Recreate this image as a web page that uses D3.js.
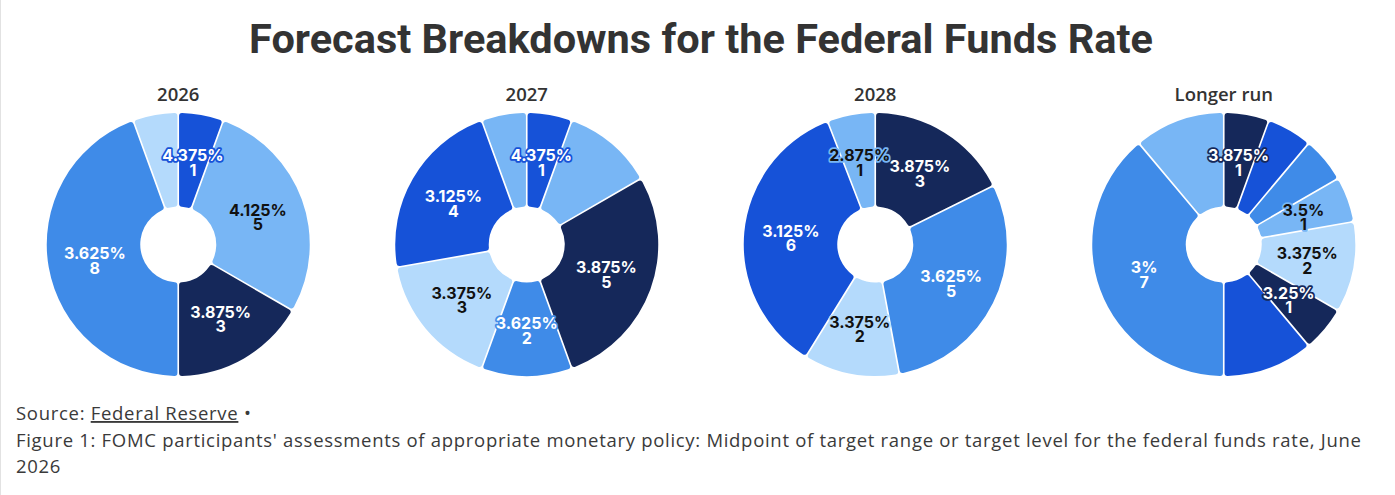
<!DOCTYPE html>
<html>
<head>
<meta charset="utf-8">
<script src="https://cdn.jsdelivr.net/npm/d3@7"></script>
<style>
  html, body { margin: 0; padding: 0; background: #fff; }
  svg { display: block; }
</style>
</head>
<body>
<svg id="chart" width="1395" height="495"></svg>
<script>
// ---------- data ----------
const chartTitle = "Forecast Breakdowns for the Federal Funds Rate";
const categories = ["2026", "2027", "2028", "Longer run"];

const rates2026  = ["4.375%", "4.125%", "3.875%", "3.625%", "3.375%"];
const counts2026 = [1, 5, 3, 8, 1];

const rates2027  = ["4.375%", "4.125%", "3.875%", "3.625%", "3.375%", "3.125%", "2.875%"];
const counts2027 = [1, 2, 5, 2, 3, 4, 1];

const rates2028  = ["3.875%", "3.625%", "3.375%", "3.125%", "2.875%"];
const counts2028 = [3, 5, 2, 6, 1];

const ratesLonger  = ["3.875%", "3.75%", "3.625%", "3.5%", "3.375%", "3.25%", "3.125%", "3%", "2.875%"];
const countsLonger = [1, 1, 1, 1, 2, 1, 2, 7, 2];

// colour domain: every rate level on the 1/8 grid
const rateLevels = ["4.375%", "4.25%", "4.125%", "4%", "3.875%", "3.75%", "3.625%", "3.5%",
                    "3.375%", "3.25%", "3.125%", "3%", "2.875%"];

const sourceName = "Federal Reserve";
const noteLine1 = "Figure 1: FOMC participants' assessments of appropriate monetary policy: Midpoint of target range or target level for the federal funds rate, June";
const noteLine2 = "2026";

// ---------- setup ----------
const W = 1395, H = 495;
const svg = d3.select("#chart");

const palette = ["#1652d8", "#3f8be8", "#78b6f5", "#b4dafc", "#15285a"];
const color = d3.scaleOrdinal(rateLevels, palette);
const darkText = new Set(["#78b6f5", "#b4dafc"]);

const panels = [
  { name: categories[0], rates: rates2026, counts: counts2026 },
  { name: categories[1], rates: rates2027, counts: counts2027 },
  { name: categories[2], rates: rates2028, counts: counts2028 },
  { name: categories[3], rates: ratesLonger, counts: countsLonger }
];

// left border
svg.append("line").attr("x1", 0.5).attr("x2", 0.5).attr("y1", 0).attr("y2", H)
  .attr("stroke", "#e2e2e2");

// title
svg.append("text")
  .attr("x", 701).attr("y", 53)
  .attr("text-anchor", "middle")
  .attr("font-family", "Roboto, 'Open Sans', sans-serif")
  .attr("font-weight", 700)
  .attr("font-size", 41.5)
  .attr("fill", "#333")
  .text(chartTitle);

const x = d3.scaleBand().domain(categories).range([4, 1398]);
const outerR = 131.5, innerR = 38;
const cy = 244.5;

const pie = d3.pie().sort(null).value(d => d.count);
const arc = d3.arc().innerRadius(innerR).outerRadius(outerR)
  .padAngle(0.012).cornerRadius(3);

const inset = 2.5; // tolerance for label collision test
panels.forEach(p => {
  const data = p.rates.map((r, i) => ({ rate: r, count: p.counts[i] }));
  const cx = x(p.name) + x.bandwidth() / 2;
  const g = svg.append("g").attr("transform", `translate(${cx},${cy})`);

  svg.append("text")
    .attr("x", cx).attr("y", 101)
    .attr("text-anchor", "middle")
    .attr("font-family", "'Open Sans', sans-serif")
    .attr("font-weight", 600)
    .attr("font-size", 18.5)
    .attr("fill", "#333")
    .text(p.name);

  const arcs = pie(data);
  g.selectAll("path").data(arcs).join("path")
    .attr("d", arc)
    .attr("fill", d => color(d.data.rate));

  const placed = [];
  arcs.forEach(a => {
    const [lx, ly] = arc.centroid(a);
    const fill = color(a.data.rate);
    const t = g.append("text")
      .attr("text-anchor", "middle")
      .attr("font-family", "Inter, 'Open Sans', sans-serif")
      .attr("font-weight", 700)
      .attr("font-size", 16)
      .attr("fill", darkText.has(fill) ? "#111" : "#fff")
      .attr("stroke", fill)
      .attr("stroke-width", 3.5)
      .attr("stroke-linejoin", "round")
      .attr("paint-order", "stroke");
    t.append("tspan").attr("x", lx).attr("y", ly).text(a.data.rate);
    t.append("tspan").attr("x", lx).attr("y", ly + 14.5).text(a.data.count);
    const bb = t.node().getBBox();
    const b = { x: bb.x + inset, y: bb.y, width: bb.width - 2 * inset, height: bb.height };
    const overlaps = placed.some(q => !(b.x + b.width <= q.x || q.x + q.width <= b.x ||
                                         b.y + b.height <= q.y || q.y + q.height <= b.y));
    if (overlaps) t.remove(); else placed.push(b);
  });
});

// footer
const foot = svg.append("g")
  .attr("font-family", "'Open Sans', sans-serif")
  .attr("font-size", 18.5)
  .attr("letter-spacing", 0.7)
  .attr("fill", "#3a3a3a");
const s = foot.append("text").attr("x", 16).attr("y", 420);
s.append("tspan").text("Source: ");
s.append("tspan").attr("text-decoration", "underline").text(sourceName);
s.append("tspan").text(" \u2022");
foot.append("text").attr("x", 16).attr("y", 447).text(noteLine1);
foot.append("text").attr("x", 16).attr("y", 473).text(noteLine2);
</script>
</body>
</html>
